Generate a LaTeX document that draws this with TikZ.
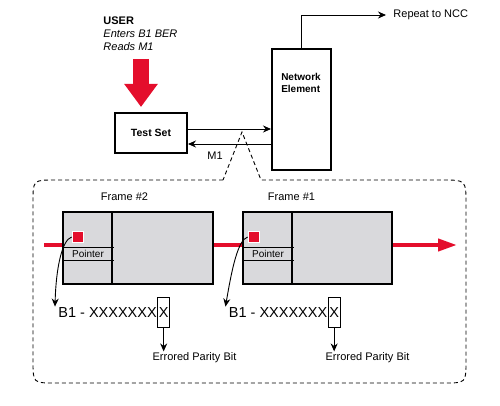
\documentclass[tikz,border=0pt]{standalone}
\usepackage{fontspec}
\setmainfont{Liberation Sans}
\usetikzlibrary{arrows.meta}

\definecolor{sigred}{RGB}{228,14,44}
\definecolor{framegray}{RGB}{217,217,220}

\tikzset{
  unitbox/.style={draw, line width=2pt, inner sep=0pt},
  framebox/.style={draw, line width=2pt, fill=framegray, minimum width=150pt, minimum height=72pt},
  marker/.style={draw=white, line width=0.8pt, fill=sigred, minimum size=11pt, inner sep=0pt},
  lbl/.style={font=\fontsize{11}{13}\selectfont, inner sep=1pt},
  bits/.style={font=\fontsize{14.5}{16}\selectfont, inner sep=0pt},
  tip/.style={-{Stealth[length=8pt,width=7pt]}},
  redline/.style={sigred, line width=4pt},
}

\begin{document}
\begin{tikzpicture}[x=1pt, y=-1pt, line width=0.9pt]
\useasboundingbox (0,0) rectangle (500,406);

% zoomed area round the two frames
\draw[dash pattern=on 4pt off 3pt] (223,180) -- (55,180) .. controls (33,180) .. (33,202)
  -- (33,361) .. controls (33,383) .. (55,383) -- (444,383) .. controls (466,383) .. (466,361)
  -- (466,204) .. controls (466,180) .. (442,180) -- (261,180) -- (242,132) -- cycle;

% user, test set and network element
\node[lbl, anchor=north west, align=left, inner sep=0pt] (user) at (103,16)
  {\textbf{USER}\\\textit{Enters B1 BER}\\\textit{Reads M1}};
\coordinate (push) at (141,59);
\coordinate (pushend) at (141,107);
\draw[sigred, line width=16pt, -{Triangle[length=23pt,width=32pt]}] (push) -- (pushend);

\node[unitbox, minimum width=72pt, minimum height=40pt, font=\bfseries\fontsize{10.5}{12}\selectfont] (ts) at (151,133) {Test Set};
\node[unitbox, minimum width=59pt, minimum height=121pt] (ne) at (301.5,109.5) {};
\node[align=left, inner sep=0pt, font=\bfseries\fontsize{10}{12}\selectfont] (netext) at (301,83) {Network\\Element};

\node[lbl, anchor=west] (ncc) at (392,15) {Repeat to NCC};
\draw[tip] (ne.north) |- ([xshift=-6pt]ncc.west);

\path (ts.east) ++(0,-4) coordinate (tsout);
\path (ts.east) ++(0,11) coordinate (tsin);
\draw[tip] (tsout) -- (tsout -| ne.west);
\draw[tip] (tsin -| ne.west) -- (tsin);
\node[lbl] (m1) at (215,156) {M1};

% frames
\node[framebox] (f2) at (138,248) {};
\node[framebox, minimum width=149pt] (f1) at (317.5,248) {};
\draw[line width=1.5pt] (112,212) -- (112,284);
\draw[line width=1.5pt] (292,212) -- (292,284);
\draw (63,247) -- (114,247) (63,260) -- (114,260);
\draw (243,247) -- (294,247) (243,260) -- (294,260);
\node[font=\fontsize{10}{12}\selectfont, inner sep=0pt] (ptr2) at (88,253.5) {Pointer};
\node[font=\fontsize{10}{12}\selectfont, inner sep=0pt] (ptr1) at (268,253.5) {Pointer};
\node[lbl] (t2) at (124.5,197) {Frame \#2};
\node[lbl] (t1) at (291.5,197) {Frame \#1};

% signal through the frames
\coordinate (sigin) at (44,245);
\coordinate (sigout) at (457,245);
\draw[redline] (sigin) -- (sigin -| f2.west);
\draw[redline] (sigin -| f2.east) -- (sigin -| f1.west);
\draw[redline, -{Triangle[length=19pt,width=12pt]}] (sigin -| f1.east) -- (sigout);
\node[marker] (p2) at (77.5,237) {};
\node[marker] (p1) at (253.5,237) {};

% B1 bytes
\node[bits, anchor=base west] (b2) at (58,317) {B1 - XXXXXXX};
\node[bits, draw, line width=0.9pt, minimum width=12pt, minimum height=30pt, inner sep=0.5pt, anchor=west] (x2) at (b2.east) {X};
\node[bits, anchor=base west] (b1) at (228.5,317) {B1 - XXXXXXX};
\node[bits, draw, line width=0.9pt, minimum width=12pt, minimum height=30pt, inner sep=0.5pt, anchor=west] (x1) at (b1.east) {X};

\draw[tip] (p2.west) .. controls (62,240) and (56,268) .. ([xshift=-3pt]b2.north west);
\draw[tip] (p1.west) .. controls (238,240) and (232,268) .. ([xshift=-3pt]b1.north west);

\node[lbl] (e2) at (194.5,358) {Errored Parity Bit};
\node[lbl] (e1) at (367.5,358) {Errored Parity Bit};
\draw[tip] (x2.south) -- (x2.south |- e2.north);
\draw[tip] (x1.south) -- (x1.south |- e1.north);
\end{tikzpicture}
\end{document}
